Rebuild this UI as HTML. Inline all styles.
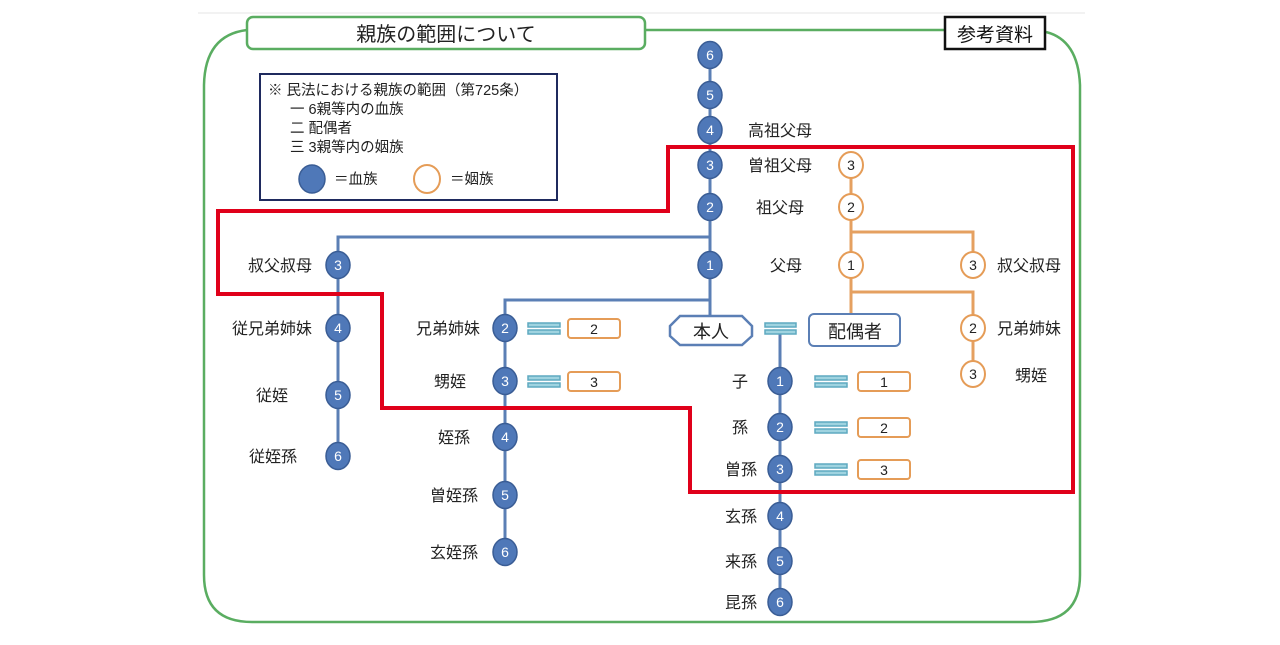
<!DOCTYPE html>
<html><head><meta charset="utf-8"><style>
body{margin:0;background:#fff;}
svg text{font-family:"Liberation Sans","Noto Sans CJK JP",sans-serif;}
</style></head><body>
<svg width="1280" height="640" viewBox="0 0 1280 640" xmlns="http://www.w3.org/2000/svg">
<line x1="198" y1="13" x2="1085" y2="13" stroke="#eee" stroke-width="1.5"/>
<!-- outer green -->
<path d="M247 30 Q205 35 204 85 L204 575 Q204 622 252 622 L1030 622 Q1080 622 1080 575 L1080 85 Q1078 40 1046 32" fill="none" stroke="#5aad61" stroke-width="2.5"/>
<line x1="645" y1="30" x2="945" y2="30" stroke="#5aad61" stroke-width="2.5"/>
<rect x="247" y="17" width="398" height="32" rx="6" fill="#fff" stroke="#5aad61" stroke-width="2.5"/>
<text x="446" y="41" font-size="20" text-anchor="middle" fill="#222">親族の範囲について</text>
<rect x="945" y="17" width="100" height="32" fill="#fff" stroke="#111" stroke-width="2.5"/>
<text x="995" y="41" font-size="19" text-anchor="middle" fill="#111">参考資料</text>
<!-- legend -->
<rect x="260" y="74" width="297" height="126" fill="#fff" stroke="#1f2a5e" stroke-width="2"/>
<g font-size="14.5" fill="#222">
<text x="268" y="95">※  民法における親族の範囲（第725条）</text>
<text x="290" y="114">一  6親等内の血族</text>
<text x="290" y="133">二  配偶者</text>
<text x="290" y="152">三  3親等内の姻族</text>
<text x="334" y="184">＝血族</text>
<text x="450" y="184">＝姻族</text>
</g>
<ellipse cx="312" cy="179" rx="13" ry="14" fill="#4f78b8" stroke="#3a5d95" stroke-width="1.5"/>
<ellipse cx="427" cy="179" rx="13" ry="14" fill="#fff" stroke="#e59c57" stroke-width="2"/>
<!-- blue lines -->
<g stroke="#5b7fb5" stroke-width="3" fill="none">
<line x1="710" y1="55" x2="710" y2="316"/>
<polyline points="710,237 338,237 338,456"/>
<polyline points="710,300 505,300 505,552"/>
<line x1="780" y1="330" x2="780" y2="602"/>
</g>
<!-- orange lines -->
<g stroke="#e5a060" stroke-width="3" fill="none">
<line x1="851" y1="165" x2="851" y2="316"/>
<polyline points="851,232 973,232 973,265"/>
<polyline points="851,292 973,292 973,374"/>
</g>
<!-- red polygon -->
<polygon points="668,147 1073,147 1073,492 690,492 690,408 382,408 382,294 218,294 218,211 668,211" fill="none" stroke="#e0001a" stroke-width="4"/>
<!-- blue circles -->
<g fill="#4f78b8" stroke="#3a5d95" stroke-width="1.5">
<ellipse cx="710" cy="55" rx="12" ry="13.5"/><ellipse cx="710" cy="95" rx="12" ry="13.5"/><ellipse cx="710" cy="130" rx="12" ry="13.5"/><ellipse cx="710" cy="165" rx="12" ry="13.5"/><ellipse cx="710" cy="207" rx="12" ry="13.5"/><ellipse cx="710" cy="265" rx="12" ry="13.5"/>
<ellipse cx="338" cy="265" rx="12" ry="13.5"/><ellipse cx="338" cy="328" rx="12" ry="13.5"/><ellipse cx="338" cy="395" rx="12" ry="13.5"/><ellipse cx="338" cy="456" rx="12" ry="13.5"/>
<ellipse cx="505" cy="328" rx="12" ry="13.5"/><ellipse cx="505" cy="381" rx="12" ry="13.5"/><ellipse cx="505" cy="437" rx="12" ry="13.5"/><ellipse cx="505" cy="495" rx="12" ry="13.5"/><ellipse cx="505" cy="552" rx="12" ry="13.5"/>
<ellipse cx="780" cy="381" rx="12" ry="13.5"/><ellipse cx="780" cy="427" rx="12" ry="13.5"/><ellipse cx="780" cy="469" rx="12" ry="13.5"/><ellipse cx="780" cy="516" rx="12" ry="13.5"/><ellipse cx="780" cy="561" rx="12" ry="13.5"/><ellipse cx="780" cy="602" rx="12" ry="13.5"/>
</g>
<g fill="#fff" font-size="14" text-anchor="middle">
<text x="710" y="60">6</text><text x="710" y="100">5</text><text x="710" y="135">4</text><text x="710" y="170">3</text><text x="710" y="212">2</text><text x="710" y="270">1</text>
<text x="338" y="270">3</text><text x="338" y="333">4</text><text x="338" y="400">5</text><text x="338" y="461">6</text>
<text x="505" y="333">2</text><text x="505" y="386">3</text><text x="505" y="442">4</text><text x="505" y="500">5</text><text x="505" y="557">6</text>
<text x="780" y="386">1</text><text x="780" y="432">2</text><text x="780" y="474">3</text><text x="780" y="521">4</text><text x="780" y="566">5</text><text x="780" y="607">6</text>
</g>
<!-- orange circles -->
<g fill="#fff" stroke="#e59c57" stroke-width="2">
<ellipse cx="851" cy="165" rx="12" ry="13"/><ellipse cx="851" cy="207" rx="12" ry="13"/><ellipse cx="851" cy="265" rx="12" ry="13"/>
<ellipse cx="973" cy="265" rx="12" ry="13"/><ellipse cx="973" cy="328" rx="12" ry="13"/><ellipse cx="973" cy="374" rx="12" ry="13"/>
</g>
<g fill="#222" font-size="14" text-anchor="middle">
<text x="851" y="170">3</text><text x="851" y="212">2</text><text x="851" y="270">1</text>
<text x="973" y="270">3</text><text x="973" y="333">2</text><text x="973" y="379">3</text>
</g>
<!-- labels -->
<g fill="#222" font-size="16">
<text x="748" y="136">高祖父母</text><text x="748" y="171">曽祖父母</text><text x="756" y="213">祖父母</text><text x="770" y="271">父母</text>
<text x="997" y="271">叔父叔母</text><text x="997" y="334">兄弟姉妹</text><text x="1015" y="381">甥姪</text>
</g>
<g fill="#222" font-size="16" text-anchor="end">
<text x="312" y="271">叔父叔母</text><text x="312" y="334">従兄弟姉妹</text><text x="288" y="401">従姪</text><text x="297" y="462">従姪孫</text>
<text x="480" y="334">兄弟姉妹</text><text x="466" y="387">甥姪</text><text x="470" y="443">姪孫</text><text x="478" y="501">曽姪孫</text><text x="478" y="558">玄姪孫</text>
<text x="748" y="387">子</text><text x="748" y="433">孫</text><text x="757" y="475">曽孫</text><text x="757" y="522">玄孫</text><text x="757" y="567">来孫</text><text x="757" y="608">昆孫</text>
</g>
<!-- 本人 / 配偶者 -->
<polygon points="680,316 742,316 752,326 752,336 742,345 680,345 670,336 670,326" fill="#fff" stroke="#5b7fb5" stroke-width="2.5"/>
<text x="711" y="338" font-size="18" text-anchor="middle" fill="#222">本人</text>
<rect x="809" y="314" width="91" height="32" rx="5" fill="#fff" stroke="#5b7fb5" stroke-width="2"/>
<text x="855" y="338" font-size="18" text-anchor="middle" fill="#222">配偶者</text>
<!-- equal signs -->
<g fill="#9fd3e0" stroke="#5ea9c0" stroke-width="1.5">
<rect x="765" y="323" width="31" height="4"/><rect x="765" y="330" width="31" height="4"/>
<rect x="528" y="323" width="32" height="4"/><rect x="528" y="330" width="32" height="4"/>
<rect x="528" y="376" width="32" height="4"/><rect x="528" y="383" width="32" height="4"/>
<rect x="815" y="376" width="32" height="4"/><rect x="815" y="383" width="32" height="4"/>
<rect x="815" y="422" width="32" height="4"/><rect x="815" y="429" width="32" height="4"/>
<rect x="815" y="464" width="32" height="4"/><rect x="815" y="471" width="32" height="4"/>
</g>
<g fill="#fff" stroke="#e59c57" stroke-width="2">
<rect x="568" y="319" width="52" height="19" rx="3"/><rect x="568" y="372" width="52" height="19" rx="3"/>
<rect x="858" y="372" width="52" height="19" rx="3"/><rect x="858" y="418" width="52" height="19" rx="3"/><rect x="858" y="460" width="52" height="19" rx="3"/>
</g>
<g fill="#222" font-size="14" text-anchor="middle">
<text x="594" y="334">2</text><text x="594" y="387">3</text>
<text x="884" y="387">1</text><text x="884" y="433">2</text><text x="884" y="475">3</text>
</g>
</svg>
</body></html>
